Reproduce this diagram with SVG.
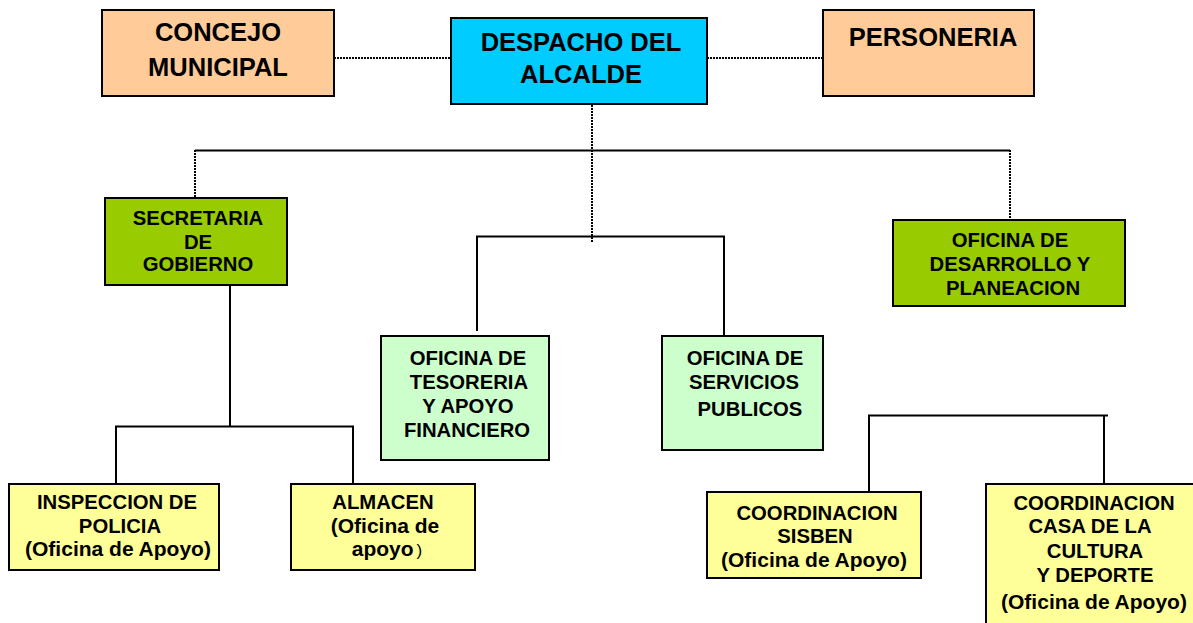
<svg xmlns="http://www.w3.org/2000/svg" width="1193" height="623" viewBox="0 0 1193 623">
<style>
.box{stroke:#000;stroke-width:2}
.peach{fill:#FFCC99}
.cyan{fill:#00CCFF}
.green{fill:#99CC00}
.lgreen{fill:#CCFFCC}
.yellow{fill:#FFFF99}
text{font-family:"Liberation Sans",Arial,sans-serif;font-weight:bold;fill:#000;text-anchor:middle}
.big{font-size:25.5px}
.t{font-size:20.3px}
.p{font-size:21px}
.solid{stroke:#000;stroke-width:2;fill:none}
.dot{stroke:#000;stroke-width:2;fill:none;stroke-dasharray:2 1}
</style>
<rect width="1193" height="623" fill="#fff"/>
<g id="connectors">
<line class="dot" x1="334" y1="58" x2="451" y2="58"/>
<line class="dot" x1="707" y1="58" x2="823" y2="58"/>
<line class="dot" x1="592" y1="105" x2="592" y2="243"/>
<line class="solid" x1="195" y1="150.5" x2="1010" y2="150.5"/>
<line class="dot" x1="195" y1="150" x2="195" y2="198"/>
<line class="dot" x1="1010" y1="150" x2="1010" y2="220"/>
<polyline class="solid" points="477,331 477,236.5 724,236.5 724,341"/>
<line class="solid" x1="230" y1="285" x2="230" y2="426.5"/>
<polyline class="solid" points="116,484 116,426.5 353,426.5 353,484"/>
<polyline class="solid" points="869,492 869,415.5 1108,415.5"/>
<line class="solid" x1="1104" y1="415" x2="1104" y2="484"/>
</g>
<g id="concejo">
<rect class="box peach" x="102" y="10" width="232" height="86"/>
<text class="big" x="218" y="41">CONCEJO</text>
<text class="big" x="218" y="76">MUNICIPAL</text>
</g>
<g id="despacho">
<rect class="box cyan" x="451" y="18" width="256" height="86"/>
<text class="big" x="581" y="51">DESPACHO DEL</text>
<text class="big" x="581" y="83">ALCALDE</text>
</g>
<g id="personeria">
<rect class="box peach" x="823" y="10" width="211" height="86"/>
<text class="big" x="933" y="46">PERSONERIA</text>
</g>
<g id="secretaria">
<rect class="box green" x="105" y="198" width="182" height="87"/>
<text class="t" x="198" y="225">SECRETARIA</text>
<text class="t" x="198" y="249">DE</text>
<text class="t" x="198" y="271">GOBIERNO</text>
</g>
<g id="desarrollo">
<rect class="box green" x="893" y="220" width="232" height="86"/>
<text class="t" x="1010" y="247">OFICINA DE</text>
<text class="t" x="1010" y="271">DESARROLLO Y</text>
<text class="t" x="1013" y="295">PLANEACION</text>
</g>
<g id="tesoreria">
<rect class="box lgreen" x="381" y="336" width="168" height="124"/>
<text class="t" x="468" y="365">OFICINA DE</text>
<text class="t" x="469" y="389">TESORERIA</text>
<text class="t" x="468" y="413">Y APOYO</text>
<text class="t" x="467" y="437">FINANCIERO</text>
</g>
<g id="servicios">
<rect class="box lgreen" x="662" y="336" width="161" height="114"/>
<text class="t" x="745" y="365">OFICINA DE</text>
<text class="t" x="744" y="389">SERVICIOS</text>
<text class="t" x="750" y="416">PUBLICOS</text>
</g>
<g id="inspeccion">
<rect class="box yellow" x="9" y="484" width="210" height="86"/>
<text class="t" x="117" y="509">INSPECCION DE</text>
<text class="t" x="120" y="533">POLICIA</text>
<text class="p" x="118" y="556">(Oficina de Apoyo)</text>
</g>
<g id="almacen">
<rect class="box yellow" x="291" y="484" width="184" height="86"/>
<text class="t" x="383" y="509">ALMACEN</text>
<text class="p" x="385" y="533">(Oficina de</text>
<text class="p" x="387" y="556">apoyo<tspan font-weight="normal" font-size="17" dx="3">)</tspan></text>
</g>
<g id="sisben">
<rect class="box yellow" x="707" y="492" width="214" height="86"/>
<text class="t" x="817" y="520">COORDINACION</text>
<text class="t" x="815" y="543">SISBEN</text>
<text class="p" x="814" y="567">(Oficina de Apoyo)</text>
</g>
<g id="casa">
<rect class="box yellow" x="986" y="484" width="220" height="150"/>
<text class="t" x="1094" y="510">COORDINACION</text>
<text class="t" x="1090" y="533">CASA DE LA</text>
<text class="t" x="1095" y="558">CULTURA</text>
<text class="t" x="1095" y="582">Y DEPORTE</text>
<text class="p" x="1094" y="609">(Oficina de Apoyo)</text>
</g>
</svg>
